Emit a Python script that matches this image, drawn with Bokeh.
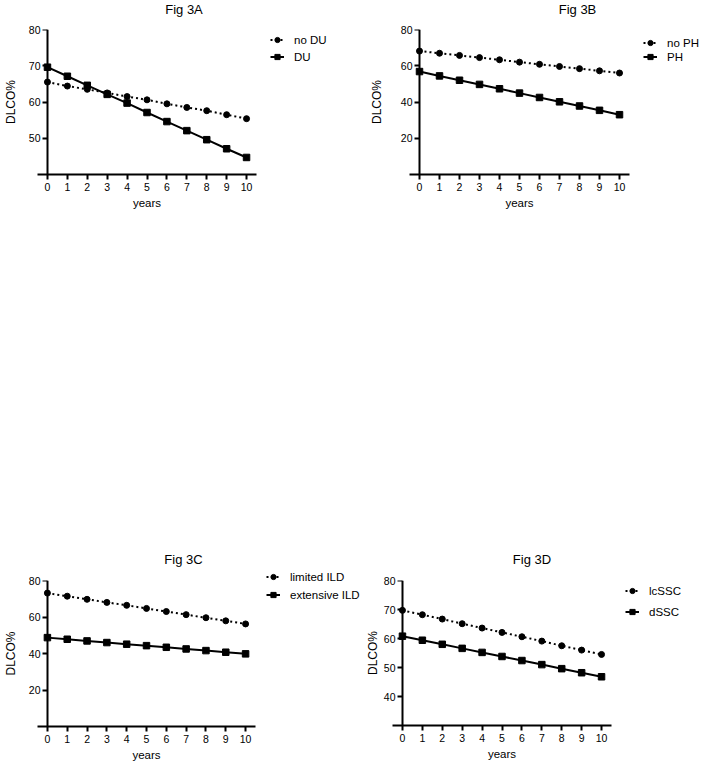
from bokeh.plotting import figure
from bokeh.models import Range1d, FixedTicker, Legend, LegendItem, LinearAxis, Label
from bokeh.layouts import column, row
from bokeh.embed import file_html
from bokeh.resources import INLINE

# ---- data ----
years = list(range(11))
x_ticks = list(range(11))

titles = ["Fig 3A", "Fig 3B", "Fig 3C", "Fig 3D"]

labels_a = ["no DU", "DU"]
no_du = [65.5, 64.4, 63.5, 62.5, 61.5, 60.6, 59.5, 58.5, 57.6, 56.5, 55.4]
du = [69.6, 67.1, 64.6, 62.1, 59.7, 57.1, 54.6, 52.1, 49.6, 47.1, 44.7]
y_ticks_a = [50, 60, 70, 80]

labels_b = ["no PH", "PH"]
no_ph = [68.1, 66.9, 65.7, 64.5, 63.3, 62.0, 60.8, 59.6, 58.4, 57.2, 56.0]
ph = [56.8, 54.4, 52.0, 49.7, 47.3, 44.9, 42.5, 40.1, 37.8, 35.4, 33.0]
y_ticks_b = [20, 40, 60, 80]

labels_c = ["limited ILD", "extensive ILD"]
limited_ild = [73.1, 71.4, 69.7, 68.0, 66.4, 64.7, 63.0, 61.3, 59.6, 57.9, 56.2]
extensive_ild = [48.7, 47.8, 46.9, 46.0, 45.1, 44.3, 43.4, 42.5, 41.6, 40.7, 39.8]
y_ticks_c = [20, 40, 60, 80]

labels_d = ["lcSSC", "dSSC"]
lcssc = [69.7, 68.2, 66.7, 65.1, 63.6, 62.1, 60.6, 59.1, 57.5, 56.0, 54.5]
dssc = [60.8, 59.4, 58.0, 56.6, 55.2, 53.8, 52.4, 51.0, 49.6, 48.2, 46.8]
y_ticks_d = [40, 50, 60, 70, 80]

FONT = "Liberation Sans"
DOT = "2 3"


def style_axis(ax):
    ax.axis_line_width = 2
    ax.axis_line_color = "black"
    ax.major_tick_line_width = 2
    ax.major_tick_line_color = "black"
    ax.major_tick_in = 0
    ax.major_tick_out = 5
    ax.minor_tick_in = 0
    ax.minor_tick_out = 0
    ax.major_label_text_font = FONT
    ax.major_label_text_font_size = "10.5px"
    ax.major_label_text_color = "black"
    ax.axis_label_text_font = FONT
    ax.axis_label_text_font_style = "normal"
    ax.axis_label_text_color = "black"


def blank_fig(W, H, left=0, top=0):
    f = figure(output_backend="svg", toolbar_location=None, title=None,
               width=W, height=H,
               min_border_left=left, min_border_top=top,
               min_border_right=0, min_border_bottom=0,
               x_axis_type=None, y_axis_type=None,
               x_range=Range1d(-3, -2), y_range=Range1d(0, 1),
               background_fill_color="white", border_fill_color="white")
    f.outline_line_color = None
    f.grid.visible = False
    return f


def title_fig(text, W, H, cx, baseline):
    f = blank_fig(W, H)
    f.add_layout(Label(x=cx, y=baseline, x_units="screen", y_units="screen",
                       text=text, text_align="center", text_baseline="alphabetic",
                       text_font=FONT, text_font_size="13px", text_color="black"))
    return f


def panel(s1, s2, y_lo, y_ticks, H, bl, fw, bt, fh, ylab_standoff):
    W = bl + fw + 4
    p = figure(output_backend="svg", toolbar_location=None, title=None,
               width=W, height=H,
               min_border_left=bl, min_border_right=4,
               min_border_top=bt, min_border_bottom=H - bt - fh,
               x_range=Range1d(-0.5, 10.5), y_range=Range1d(y_lo, 80),
               background_fill_color="white", border_fill_color="white")
    p.outline_line_color = None
    p.grid.visible = False

    xa = p.xaxis[0]
    style_axis(xa)
    xa.ticker = FixedTicker(ticks=x_ticks)
    xa.major_label_standoff = 3
    xa.axis_label = "years"
    xa.axis_label_text_font_size = "11.5px"
    xa.axis_label_standoff = 3

    # axis line + ticks at x = 0 (inside the frame)
    ya = p.yaxis[0]
    style_axis(ya)
    ya.ticker = FixedTicker(ticks=y_ticks)
    ya.fixed_location = 0
    ya.major_label_text_color = None

    # tick labels + axis title in the left panel
    yl = LinearAxis(ticker=FixedTicker(ticks=y_ticks))
    style_axis(yl)
    yl.axis_line_color = None
    yl.major_tick_line_color = None
    yl.major_tick_out = 0
    yl.major_label_standoff = -3
    yl.axis_label = "DLCO%"
    yl.axis_label_text_font_size = "12px"
    yl.axis_label_standoff = ylab_standoff
    p.add_layout(yl, "left")

    p.line(years, s1, line_color="black", line_width=2, line_dash=DOT)
    p.scatter(years, s1, marker="circle", size=6, color="black")
    p.line(years, s2, line_color="black", line_width=2)
    p.scatter(years, s2, marker="square", size=6.5, color="black")
    return p


def legend_fig(labels, s1, s2, W, H, left, top, spacing):
    f = blank_fig(W, H, left, top)
    # renderers that only supply the legend glyphs (their data lie outside the view)
    l1 = f.line(years, s1, line_color="black", line_width=2, line_dash=DOT)
    m1 = f.scatter(years, s1, marker="circle", size=6, color="black")
    l2 = f.line(years, s2, line_color="black", line_width=2)
    m2 = f.scatter(years, s2, marker="square", size=6.5, color="black")
    leg = Legend(items=[LegendItem(label=labels[0], renderers=[l1, m1]),
                        LegendItem(label=labels[1], renderers=[l2, m2])],
                 location="top_left", orientation="vertical",
                 glyph_width=14, glyph_height=13, label_height=13,
                 label_standoff=10, spacing=spacing, padding=0, margin=0,
                 border_line_color=None, background_fill_alpha=0,
                 label_text_font=FONT, label_text_font_size="11.5px",
                 label_text_color="black")
    f.add_layout(leg, "center")
    return column(f)


H1 = 540
H2 = 763 - H1
XD = 362   # left edge of panel D
TA = 22    # height of the title strip, top row
TC = 30    # height of the title strip, bottom row

pa = panel(no_du, du, 40, y_ticks_a, H1 - TA, 37, 219, 7, 145, 8)
ta = title_fig(titles[0], pa.width, TA, 37 + 219 / 2, 13.5)
la = legend_fig(labels_a, no_du, du, 351 - pa.width, H1, 10, 33, 4)

pb = panel(no_ph, ph, 0, y_ticks_b, H1 - TA, 58, 220, 7, 145, 14)
tb = title_fig(titles[1], pb.width, TA, 58 + 220 / 2, 13.5)
lb = legend_fig(labels_b, no_ph, ph, 702 - 351 - pb.width, H1, 10, 36, 1)

pc = panel(limited_ild, extensive_ild, 0, y_ticks_c, H2 - TC, 37, 218, 10, 146, 8)
tc = title_fig(titles[2], pc.width, TC, 37 + 218 / 2, 11.5)
lc = legend_fig(labels_c, limited_ild, extensive_ild, XD - pc.width, H2, 7, 30, 5)

pd = panel(lcssc, dssc, 30, y_ticks_d, H2 - TC, 392 - XD, 219, 10, 145, 1)
td = title_fig(titles[3], pd.width, TC, 392 - XD + 219 / 2, 11.5)
ld = legend_fig(labels_d, lcssc, dssc, 702 - XD - pd.width, H2, 10, 44, 8)

layout = column(row(column(ta, pa), la, column(tb, pb), lb),
                row(column(tc, pc), lc, column(td, pd), ld))
open("out.html", "w").write(file_html(layout, INLINE))
